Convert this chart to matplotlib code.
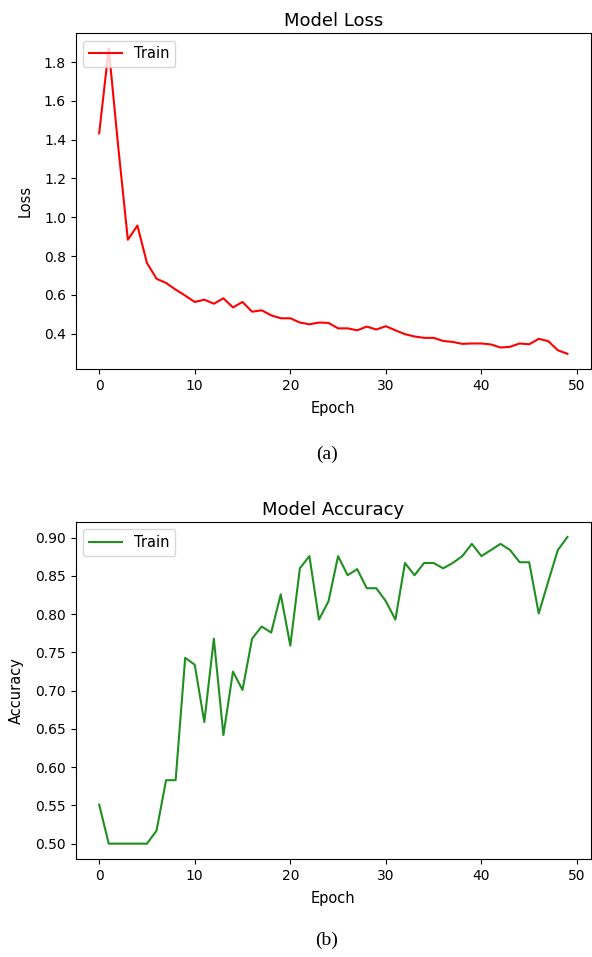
#!/usr/bin/env python3
'''Plot the training loss and accuracy curves, one above the other.'''

import matplotlib
matplotlib.use('Agg')
import matplotlib.pyplot as plt


epochs = list(range(50))

train_loss = [1.433, 1.870, 1.360, 0.884, 0.957, 0.764, 0.683, 0.661, 0.627, 0.596,
              0.563, 0.575, 0.554, 0.582, 0.535, 0.563, 0.513, 0.520, 0.494, 0.479,
              0.479, 0.457, 0.448, 0.457, 0.455, 0.427, 0.427, 0.417, 0.436, 0.421,
              0.438, 0.417, 0.397, 0.385, 0.378, 0.378, 0.362, 0.357, 0.347, 0.349,
              0.349, 0.344, 0.328, 0.332, 0.349, 0.345, 0.373, 0.361, 0.314, 0.296]

train_acc = [0.551, 0.500, 0.500, 0.500, 0.500, 0.500, 0.517, 0.583, 0.583, 0.743,
             0.734, 0.659, 0.768, 0.642, 0.725, 0.701, 0.768, 0.784, 0.776, 0.826,
             0.759, 0.860, 0.876, 0.793, 0.817, 0.876, 0.851, 0.859, 0.834, 0.834,
             0.817, 0.793, 0.867, 0.851, 0.867, 0.867, 0.860, 0.867, 0.876, 0.892,
             0.876, 0.884, 0.892, 0.884, 0.868, 0.868, 0.801, 0.843, 0.884, 0.901]


def draw_curve(ax, values, color, title, ylabel):
    ax.plot(epochs, values, color=color, linewidth=1.5, label='Train')
    ax.set_title(title, fontsize=13, pad=5)
    ax.set_xlabel('Epoch', fontsize=10.5, labelpad=6)
    ax.set_ylabel(ylabel, fontsize=10.5, labelpad=8)
    ax.tick_params(labelsize=10)
    ax.legend(loc='upper left', fontsize=10.5, handlelength=2.3)


fig = plt.figure(figsize=(5.92, 9.57), dpi=100)

ax_loss = fig.add_axes([0.128, 0.6144, 0.870, 0.3508])
ax_acc = fig.add_axes([0.128, 0.1024, 0.870, 0.3525])

draw_curve(ax_loss, train_loss, 'red', 'Model Loss', 'Loss')
draw_curve(ax_acc, train_acc, '#1f8f1f', 'Model Accuracy', 'Accuracy')

# Sub-figure captions
fig.text(0.552, 0.525, '(a)', ha='center', va='center',
         family='Liberation Serif', fontsize=14)
fig.text(0.552, 0.017, '(b)', ha='center', va='center',
         family='Liberation Serif', fontsize=14)

plt.savefig('out.png', dpi=100)
